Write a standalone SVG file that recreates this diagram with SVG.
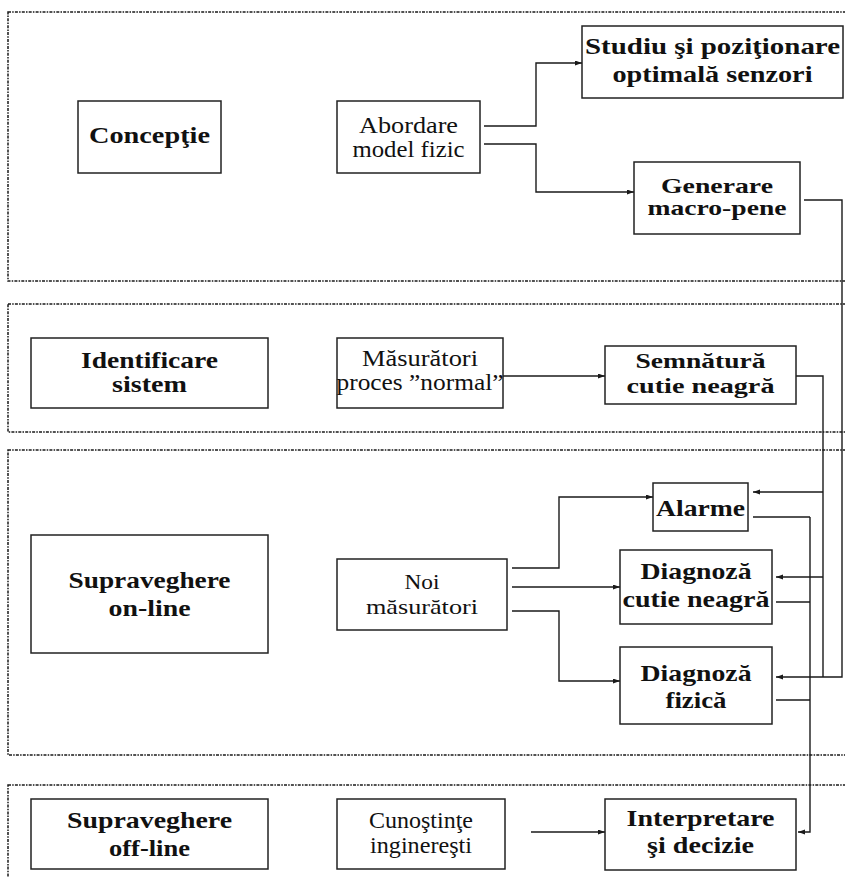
<svg xmlns="http://www.w3.org/2000/svg" width="845" height="877" viewBox="0 0 845 877">
  <style>
    .bg { fill: #ffffff; }
    .section { fill: none; stroke: #1a1a1a; stroke-width: 1.5; stroke-dasharray: 3 1.2 1.5 1.2; }
    .box { fill: #ffffff; stroke: #222222; stroke-width: 1.5; }
    .lbl { font-family: "Liberation Serif", "Times New Roman", serif; font-size: 24px; fill: #111111; text-anchor: middle; }
    .sm { font-size: 21px; }
    .b { font-weight: bold; }
    .wire { fill: none; stroke: #1a1a1a; stroke-width: 1.4; }
    .arrow { fill: none; stroke: #1a1a1a; stroke-width: 1.4; marker-end: url(#head); }
  </style>
  <defs>
    <marker id="head" markerUnits="userSpaceOnUse" markerWidth="8" markerHeight="6" refX="7" refY="2.5" orient="auto">
      <path d="M0,0 L7,2.5 L0,5 z" fill="#1a1a1a"/>
    </marker>
  </defs>

  <rect class="bg" x="0" y="0" width="845" height="877"/>

  <!-- dotted stage frames -->
  <g id="stages">
    <rect class="section" x="8" y="12" width="850" height="269"/>
    <rect class="section" x="8" y="304" width="850" height="128"/>
    <rect class="section" x="8" y="450" width="850" height="305"/>
    <rect class="section" x="8" y="785" width="850" height="110"/>
  </g>

  <!-- connectors -->
  <g id="connectors">
    <path class="arrow" d="M484,126 H536 V63 H582"/>
    <path class="arrow" d="M484,144 H536 V192 H634"/>
    <path class="arrow" d="M804,200 H842 V677 H776"/>
    <path class="arrow" d="M503,376 H605"/>
    <path class="wire" d="M796,376 H823 V677"/>
    <path class="arrow" d="M823,492 H753"/>
    <path class="arrow" d="M823,577 H776"/>
    <path class="arrow" d="M512,568 H559 V497 H653"/>
    <path class="arrow" d="M512,587 H620"/>
    <path class="arrow" d="M512,611 H559 V681 H620"/>
    <path class="wire" d="M753,517 H810"/>
    <path class="wire" d="M776,602 H810"/>
    <path class="wire" d="M776,700 H810"/>
    <path class="arrow" d="M810,517 V832 H798"/>
    <path class="arrow" d="M531,832 H605"/>
  </g>

  <!-- Concepţie stage -->
  <g id="conceptie">
    <rect class="box" x="78" y="101" width="143" height="72"/>
    <text class="lbl b" x="149.5" y="143" textLength="121" lengthAdjust="spacingAndGlyphs">Concepţie</text>
  </g>
  <g id="abordare">
    <rect class="box" x="337" y="101" width="143" height="72"/>
    <text class="lbl" x="408.5" y="133" textLength="99" lengthAdjust="spacingAndGlyphs">Abordare</text>
    <text class="lbl" x="408.5" y="157" textLength="112" lengthAdjust="spacingAndGlyphs">model fizic</text>
  </g>
  <g id="studiu">
    <rect class="box" x="582" y="26" width="261" height="72"/>
    <text class="lbl b" x="712.5" y="54" textLength="255" lengthAdjust="spacingAndGlyphs">Studiu şi poziţionare</text>
    <text class="lbl b" x="712.5" y="82" textLength="200" lengthAdjust="spacingAndGlyphs">optimală senzori</text>
  </g>
  <g id="generare">
    <rect class="box" x="634" y="162" width="166" height="72"/>
    <text class="lbl sm b" x="717" y="193" textLength="112" lengthAdjust="spacingAndGlyphs">Generare</text>
    <text class="lbl sm b" x="717" y="215" textLength="139" lengthAdjust="spacingAndGlyphs">macro-pene</text>
  </g>

  <!-- Identificare stage -->
  <g id="identificare">
    <rect class="box" x="31" y="338" width="237" height="70"/>
    <text class="lbl b" x="149.5" y="368" textLength="137" lengthAdjust="spacingAndGlyphs">Identificare</text>
    <text class="lbl b" x="149.5" y="392" textLength="75" lengthAdjust="spacingAndGlyphs">sistem</text>
  </g>
  <g id="masuratori">
    <rect class="box" x="337" y="338" width="166" height="70"/>
    <text class="lbl" x="420" y="366" textLength="116" lengthAdjust="spacingAndGlyphs">Măsurători</text>
    <text class="lbl" x="420" y="390" textLength="167" lengthAdjust="spacingAndGlyphs">proces ”normal”</text>
  </g>
  <g id="semnatura">
    <rect class="box" x="605" y="346" width="191" height="58"/>
    <text class="lbl sm b" x="700.5" y="368" textLength="130" lengthAdjust="spacingAndGlyphs">Semnătură</text>
    <text class="lbl sm b" x="700.5" y="393" textLength="148" lengthAdjust="spacingAndGlyphs">cutie neagră</text>
  </g>

  <!-- on-line stage -->
  <g id="supraveghere-online">
    <rect class="box" x="31" y="535" width="237" height="118"/>
    <text class="lbl b" x="149.5" y="588" textLength="162" lengthAdjust="spacingAndGlyphs">Supraveghere</text>
    <text class="lbl b" x="149.5" y="616" textLength="82" lengthAdjust="spacingAndGlyphs">on-line</text>
  </g>
  <g id="noi-masuratori">
    <rect class="box" x="337" y="559" width="170" height="71"/>
    <text class="lbl sm" x="422" y="589" textLength="35" lengthAdjust="spacingAndGlyphs">Noi</text>
    <text class="lbl sm" x="422" y="614" textLength="112" lengthAdjust="spacingAndGlyphs">măsurători</text>
  </g>
  <g id="alarme">
    <rect class="box" x="653" y="483" width="95" height="48"/>
    <text class="lbl b" x="700.5" y="516" textLength="89" lengthAdjust="spacingAndGlyphs">Alarme</text>
  </g>
  <g id="diagnoza-cutie">
    <rect class="box" x="620" y="550" width="152" height="74"/>
    <text class="lbl b" x="696" y="579" textLength="111" lengthAdjust="spacingAndGlyphs">Diagnoză</text>
    <text class="lbl b" x="696" y="607" textLength="147" lengthAdjust="spacingAndGlyphs">cutie neagră</text>
  </g>
  <g id="diagnoza-fizica">
    <rect class="box" x="620" y="647" width="152" height="77"/>
    <text class="lbl b" x="696" y="681" textLength="111" lengthAdjust="spacingAndGlyphs">Diagnoză</text>
    <text class="lbl b" x="696" y="708" textLength="61" lengthAdjust="spacingAndGlyphs">fizică</text>
  </g>

  <!-- off-line stage -->
  <g id="supraveghere-offline">
    <rect class="box" x="31" y="799" width="237" height="70"/>
    <text class="lbl b" x="149.5" y="828" textLength="165" lengthAdjust="spacingAndGlyphs">Supraveghere</text>
    <text class="lbl b" x="149.5" y="856" textLength="81" lengthAdjust="spacingAndGlyphs">off-line</text>
  </g>
  <g id="cunostinte">
    <rect class="box" x="337" y="799" width="168" height="70"/>
    <text class="lbl" x="421" y="828" textLength="104" lengthAdjust="spacingAndGlyphs">Cunoştinţe</text>
    <text class="lbl" x="421" y="853" textLength="102" lengthAdjust="spacingAndGlyphs">inginereşti</text>
  </g>
  <g id="interpretare">
    <rect class="box" x="605" y="799" width="191" height="71"/>
    <text class="lbl b" x="700.5" y="826" textLength="148" lengthAdjust="spacingAndGlyphs">Interpretare</text>
    <text class="lbl b" x="700.5" y="853" textLength="107" lengthAdjust="spacingAndGlyphs">şi decizie</text>
  </g>
</svg>
